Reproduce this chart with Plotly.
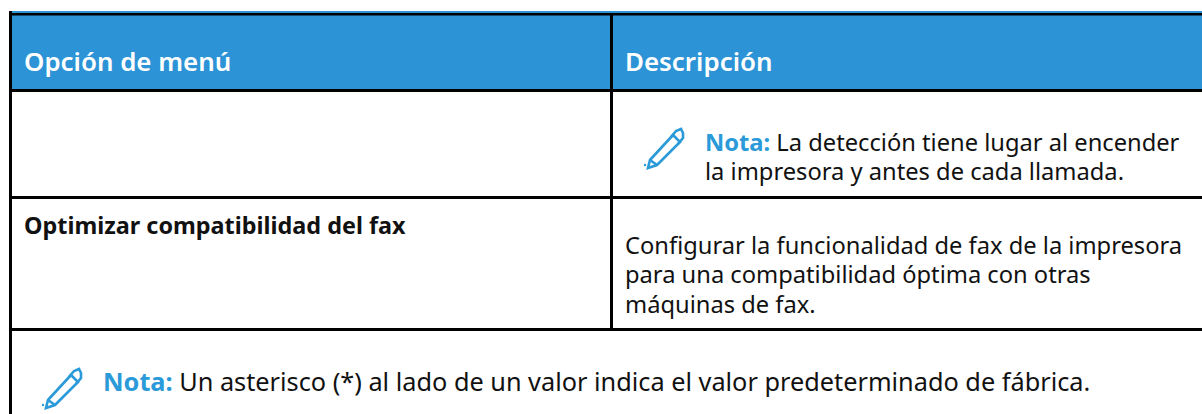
import plotly.graph_objects as go

W, H = 1202, 414
BLUE = "#2B93D6"
ACCENT = "#2B9AD8"
INK = "#111111"
FONT = "Noto Sans"
SIZE = 23.7
BOLD = 23.4
HEAD = 25.9
BOTTOM = 25.3

headers = ["Opción de menú", "Descripción"]
row_name = "Optimizar compatibilidad del fax"
note_label = "Nota:"
note_top = ["La detección tiene lugar al encender", "la impresora y antes de cada llamada."]
description = ["Configurar la funcionalidad de fax de la impresora",
               "para una compatibilidad óptima con otras",
               "máquinas de fax."]
note_bottom = "Un asterisco (*) al lado de un valor indica el valor predeterminado de fábrica."


def rect(x0, y0, x1, y1, color):
    return dict(type="rect", x0=x0, y0=y0, x1=x1, y1=y1, fillcolor=color,
                line=dict(width=0), layer="below")


def pencil(tx, ty):
    def P(pts, close=True):
        s = "M" + " L".join(f"{tx+a:.1f},{ty+b:.1f}" for a, b in pts)
        return s + (" Z" if close else "")
    body = P([(5, -5), (28, -30), (35, -23), (12, 0), (3, 3)])
    tip = P([(5, -5), (12, 0)], False)
    cap = P([(26, -28), (31, -34), (36, -36), (38, -32), (38, -27), (33, -21)], False)
    style = dict(type="path", line=dict(color=ACCENT, width=2.6), layer="above")
    dot = dict(type="circle", x0=tx-1.2, y0=ty-1.2, x1=tx+1.2, y1=ty+1.2,
               fillcolor=ACCENT, line=dict(width=0))
    return [dict(path=body, **style), dict(path=tip, **style), dict(path=cap, **style), dot]


shapes = [
    rect(9, 11, W, 89, BLUE),
    rect(9, 13, W, 15.5, "#000000"),
    rect(9, 11, 12, H, "#000000"),
    rect(9, 89, W, 92, "#000000"),
    rect(610, 13, 613, 331, "#000000"),
    rect(9, 196, W, 199, "#000000"),
    rect(9, 328, W, 331, "#000000"),
] + pencil(645, 165) + pencil(43, 405)


def label(x, y, text, color=INK, size=SIZE, weight=None):
    return dict(x=x, y=y, text=text, xanchor="left", yanchor="middle", showarrow=False,
                xref="x", yref="y", align="left", borderpad=0,
                font=dict(family=FONT, size=size, color=color, weight=weight))


def nota(rest):
    return f'<span style="color:{ACCENT}"><b>{note_label}</b></span> {rest}'


annotations = [
    label(23, 61, headers[0], "#FFFFFF", HEAD, 600),
    label(624, 61, headers[1], "#FFFFFF", HEAD, 600),
    label(704, 142, nota(note_top[0])),
    label(704, 171, note_top[1]),
    label(23, 225, row_name, INK, BOLD, 700),
    label(624, 245, description[0]),
    label(624, 274, description[1]),
    label(624, 304, description[2]),
    label(102, 381, nota(note_bottom), INK, BOTTOM),
]

fig = go.Figure()
fig.update_layout(
    width=W, height=H, margin=dict(l=0, r=0, t=0, b=0), autosize=False,
    paper_bgcolor="#FFFFFF", plot_bgcolor="#FFFFFF", showlegend=False,
    xaxis=dict(range=[0, W], visible=False, fixedrange=True),
    yaxis=dict(range=[H, 0], visible=False, fixedrange=True),
    shapes=shapes, annotations=annotations,
)
fig.write_html("out.html", config=dict(displayModeBar=False),
               post_script="document.body.style.margin='0';document.body.style.overflow='hidden';")
